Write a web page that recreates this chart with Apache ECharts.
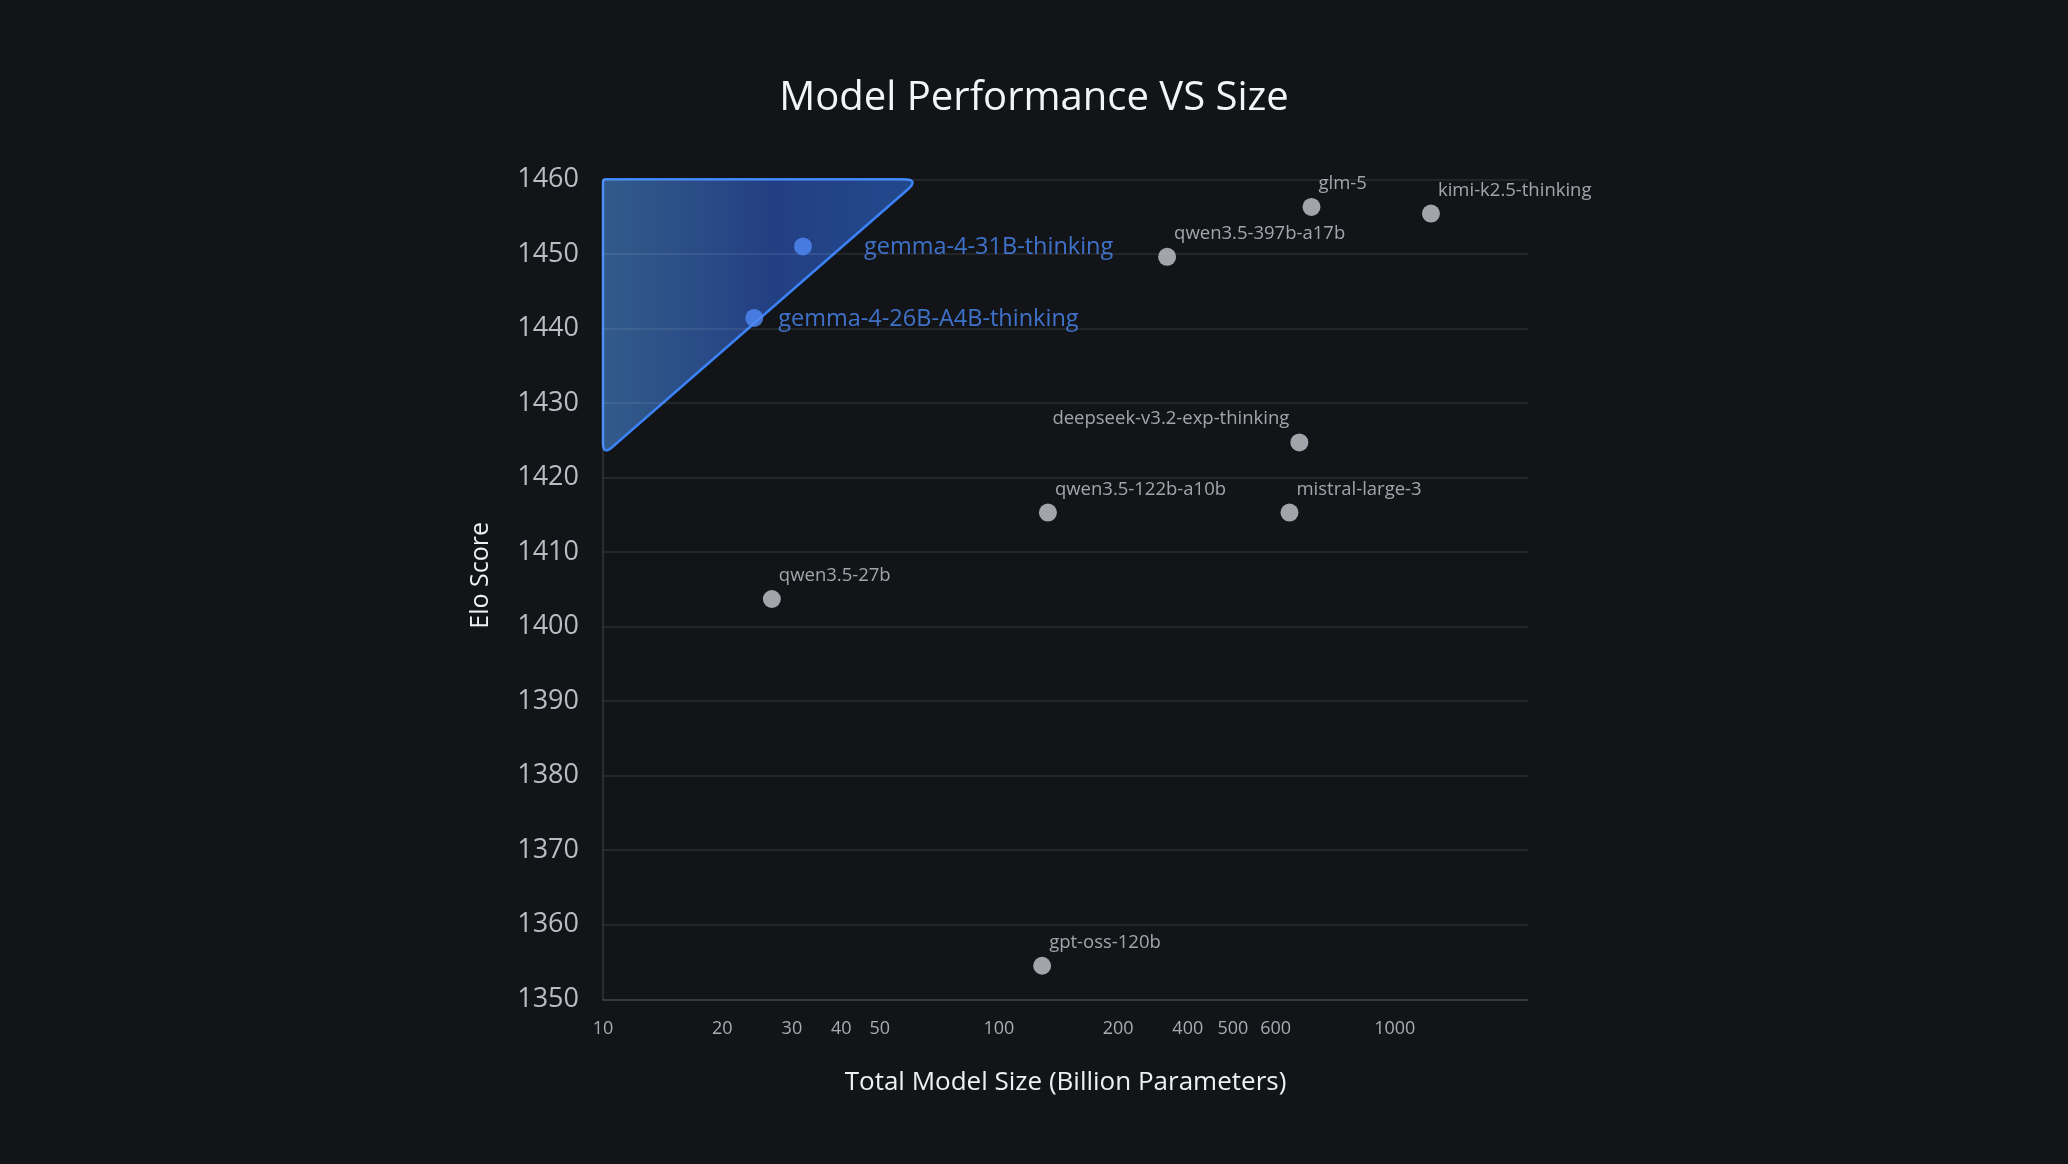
<!DOCTYPE html>
<html><head><meta charset="utf-8">
<script src="https://cdn.jsdelivr.net/npm/echarts@6/dist/echarts.min.js"></script>
<style>html,body{margin:0;padding:0;background:#131418;}#c{width:2068px;height:1164px;}</style>
</head><body><div id="c"></div>
<script>
// ---- data ----
const models = ['glm-5','kimi-k2.5-thinking','qwen3.5-397b-a17b','deepseek-v3.2-exp-thinking','qwen3.5-122b-a10b','mistral-large-3','qwen3.5-27b','gpt-oss-120b'];
const sizes  = [616, 1234, 266, 574, 133, 542, 26.7, 128.6];
const elo    = [1456.3, 1455.4, 1449.6, 1424.7, 1415.3, 1415.3, 1403.7, 1354.5];
const gemmaModels = ['gemma-4-31B-thinking','gemma-4-26B-A4B-thinking'];
const gemmaSizes  = [32, 24.1];
const gemmaElo    = [1451.0, 1441.4];
const regionSizes = [10, 63, 10];
const regionElo   = [1460, 1460, 1423.0];
const xTickValues = [10, 20, 30, 40, 50, 100, 200, 300, 390, 500, 1000];
const xTickLabels = ['10','20','30','40','50','100','200','400','500','600','1000'];
const yTicks = { min: 1350, max: 1460, step: 10 };

const FONT = '"Open Sans", "Noto Sans", sans-serif';
const chart = echarts.init(document.getElementById('c'), null, { renderer: 'canvas' });

function roundedPath(pts, radii) {
  const n = pts.length;
  let d = '';
  for (let i = 0; i < n; i++) {
    const p0 = pts[(i - 1 + n) % n], p1 = pts[i], p2 = pts[(i + 1) % n];
    const r = radii[i];
    const l0 = Math.hypot(p0[0] - p1[0], p0[1] - p1[1]);
    const l2 = Math.hypot(p2[0] - p1[0], p2[1] - p1[1]);
    const a = [p1[0] + (p0[0] - p1[0]) * r / l0, p1[1] + (p0[1] - p1[1]) * r / l0];
    const b = [p1[0] + (p2[0] - p1[0]) * r / l2, p1[1] + (p2[1] - p1[1]) * r / l2];
    d += (i === 0 ? 'M' : 'L') + a[0] + ' ' + a[1] + ' Q' + p1[0] + ' ' + p1[1] + ' ' + b[0] + ' ' + b[1] + ' ';
  }
  return d + 'Z';
}

const greyData = models.map((m, i) => {
  const item = { name: m, value: [sizes[i], elo[i]] };
  if (m === 'deepseek-v3.2-exp-thinking') item.label = { align: 'right', offset: [-10, -24] };
  return item;
});
const gemmaOffsets = [[61, 1], [24, 1]];
const gemmaData = gemmaModels.map((m, i) => ({ name: m, value: [gemmaSizes[i], gemmaElo[i]], label: { offset: gemmaOffsets[i] } }));

chart.setOption({
  backgroundColor: '#131418',
  animation: false,
  title: {
    text: 'Model Performance VS Size',
    left: 'center', top: 74,
    textStyle: { color: '#f3f4f6', fontSize: 40, fontWeight: 'normal', fontFamily: FONT }
  },
  grid: { left: 603, right: 540, top: 179.3, height: 820, containLabel: false },
  xAxis: {
    type: 'log', logBase: 10, min: 10, max: 2170,
    name: 'Total Model Size (Billion Parameters)',
    nameLocation: 'middle', nameGap: 70,
    nameTextStyle: { color: '#eef0f3', fontSize: 26, fontFamily: FONT },
    axisLine: { show: true, lineStyle: { color: 'rgba(255,255,255,0.12)', width: 1.5 } },
    axisTick: { show: false },
    splitLine: { show: false },
    minorTick: { show: false },
    axisLabel: {
      customValues: xTickValues,
      color: '#a8acb3', fontSize: 18, fontFamily: FONT, margin: 21,
      formatter: v => { const i = xTickValues.findIndex(t => Math.abs(t - v) < 1e-6 * t); return i >= 0 ? xTickLabels[i] : ''; }
    }
  },
  yAxis: {
    type: 'value', min: yTicks.min, max: yTicks.max, interval: yTicks.step,
    name: 'Elo Score', nameLocation: 'middle', nameGap: 110, nameRotate: 90,
    nameTextStyle: { color: '#eef0f3', fontSize: 25, fontFamily: FONT, padding: [0, 0, 0, 28] },
    axisLine: { show: true, lineStyle: { color: 'rgba(255,255,255,0.14)', width: 1.5 } },
    axisTick: { show: false },
    splitLine: { show: true, lineStyle: { color: 'rgba(255,255,255,0.1)', width: 1.5 } },
    axisLabel: { color: '#b9bcc3', fontSize: 27, fontFamily: FONT, margin: 24, padding: [16, 0, 0, 0], formatter: v => String(v) }
  },
  series: [
    {
      type: 'custom', z: -1, silent: true,
      data: [[0]],
      renderItem: (params, api) => {
        const pts = regionSizes.map((s, i) => api.coord([s, regionElo[i]]));
        return {
          type: 'path',
          shape: { pathData: roundedPath(pts, [3, 16, 12]) },
          style: {
            fill: { type: 'linear', x: 0, y: 0, x2: 1, y2: 0, colorStops: [
              { offset: 0, color: '#325b8a' }, { offset: 0.55, color: '#233f83' }, { offset: 1, color: '#22498c' } ] },
            stroke: '#3b82f6', lineWidth: 2.5, lineJoin: 'round'
          }
        };
      }
    },
    {
      type: 'scatter', symbolSize: 18,
      itemStyle: { color: '#c5c9d1' },
      label: { show: true, position: 'inside', align: 'left', verticalAlign: 'middle', offset: [7, -23],
        formatter: '{b}', color: '#c6c9cf', fontSize: 18.5, fontFamily: FONT },
      data: greyData
    },
    {
      type: 'scatter', symbolSize: 18,
      itemStyle: { color: '#5089f6' },
      label: { show: true, position: 'inside', align: 'left', verticalAlign: 'middle',
        formatter: '{b}', color: '#4a8af6', fontSize: 23.5, fontFamily: FONT },
      data: gemmaData
    }
  ]
});
</script></body></html>
